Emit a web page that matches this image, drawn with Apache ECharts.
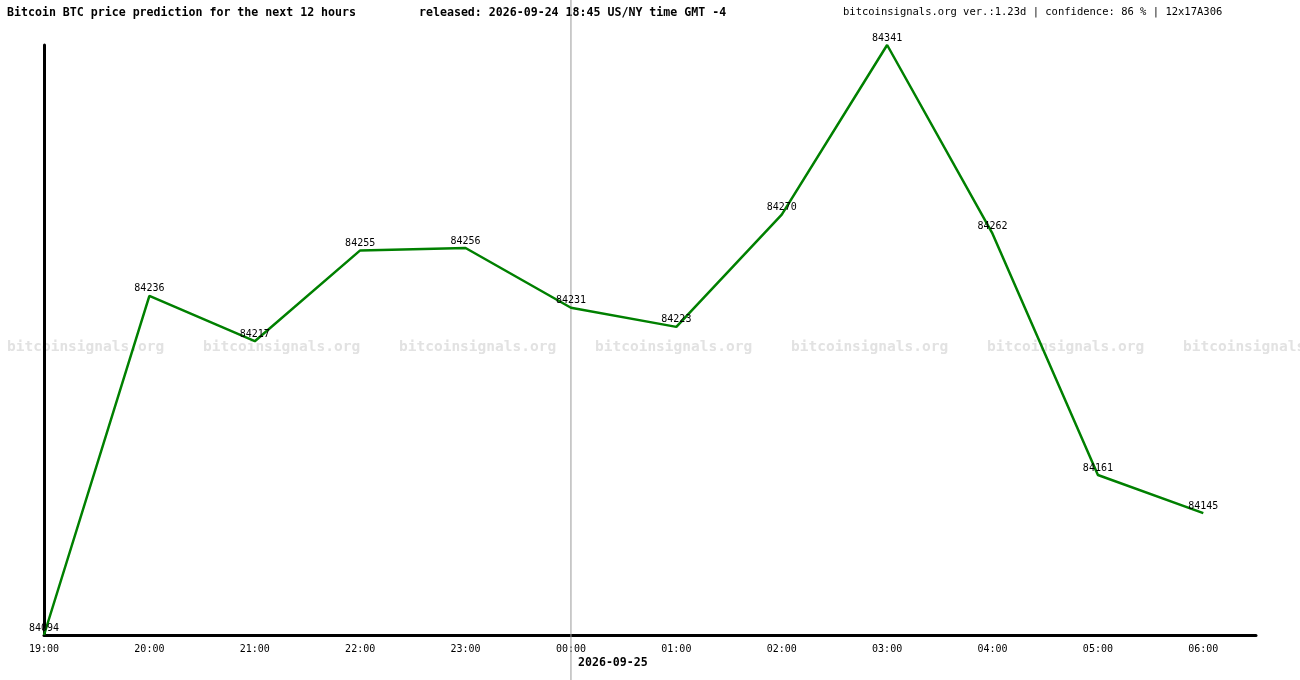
<!DOCTYPE html>
<html><head><meta charset="utf-8">
<script src="https://cdn.jsdelivr.net/npm/echarts@6/dist/echarts.min.js"></script>
<style>html,body{margin:0;padding:0;background:#fff}#c{width:1300px;height:680px}</style>
</head><body><div id="c"></div>
<script>
const timeLabels = ['19:00','20:00','21:00','22:00','23:00','00:00','01:00','02:00','03:00','04:00','05:00','06:00'];
const prices = [84094,84236,84217,84255,84256,84231,84223,84270,84341,84262,84161,84145];
const titleText = 'Bitcoin BTC price prediction for the next 12 hours';
const releasedText = 'released: 2026-09-24 18:45 US/NY time GMT -4';
const infoText = 'bitcoinsignals.org ver.:1.23d | confidence: 86 % | 12x17A306';
const dateText = '2026-09-25';
const watermark = 'bitcoinsignals.org';
const mono = '"DejaVu Sans Mono", "Liberation Mono", monospace';

const chart = echarts.init(document.getElementById('c'));
const wm = [];
for (let i = 0; i < 7; i++) {
  wm.push({type:'text', left: 7 + i*196, top: 340, z: 0,
    style:{text: watermark, font: 'bold 14.5px ' + mono, fill:'#e2e2e2'}});
}
chart.setOption({
  animation:false,
  grid:{left:44, right:44, top:45, bottom:45},
  xAxis:{type:'value', min:0, max:11.5, interval:1,
    axisLine:{onZero:false, lineStyle:{color:'#000', width:3}},
    axisTick:{show:false}, splitLine:{show:false},
    axisLabel:{color:'#000', fontFamily:mono, fontSize:10, margin:9,
      formatter:v => Number.isInteger(v) ? (timeLabels[v] || '') : '', showMaxLabel:false}},
  yAxis:{type:'value', min:84094, max:84341,
    axisLine:{show:true, lineStyle:{color:'#000', width:3}},
    axisTick:{show:false}, splitLine:{show:false}, axisLabel:{show:false}},
  series:[{type:'line', data: prices.map((p,i)=>[i,p]), symbol:'circle', symbolSize:0, showSymbol:true,
    lineStyle:{color:'#008000', width:2.5}, itemStyle:{color:'#008000'}, z:3,
    label:{show:true, position:'top', distance:2, color:'#000', fontFamily:mono, fontSize:10,
      formatter:p => String(p.value[1])},
    labelLayout:{hideOverlap:false}}]
});
const x0 = chart.convertToPixel({xAxisIndex:0}, 5);
chart.setOption({graphic: wm.concat([
  {type:'text', left:7, top:7, style:{text:titleText, font:'bold 11.6px ' + mono, fill:'#000'}},
  {type:'text', left:419, top:7, style:{text:releasedText, font:'bold 11.6px ' + mono, fill:'#000'}},
  {type:'text', left:843, top:7, style:{text:infoText, font:'10.5px ' + mono, fill:'#000'}},
  {type:'line', z:1, shape:{x1:x0, y1:0, x2:x0, y2:680}, style:{stroke:'#999', lineWidth:1}},
  {type:'text', x:x0+7, y:657, style:{text:dateText, font:'bold 11.6px ' + mono, fill:'#000'}}
])});
</script></body></html>
